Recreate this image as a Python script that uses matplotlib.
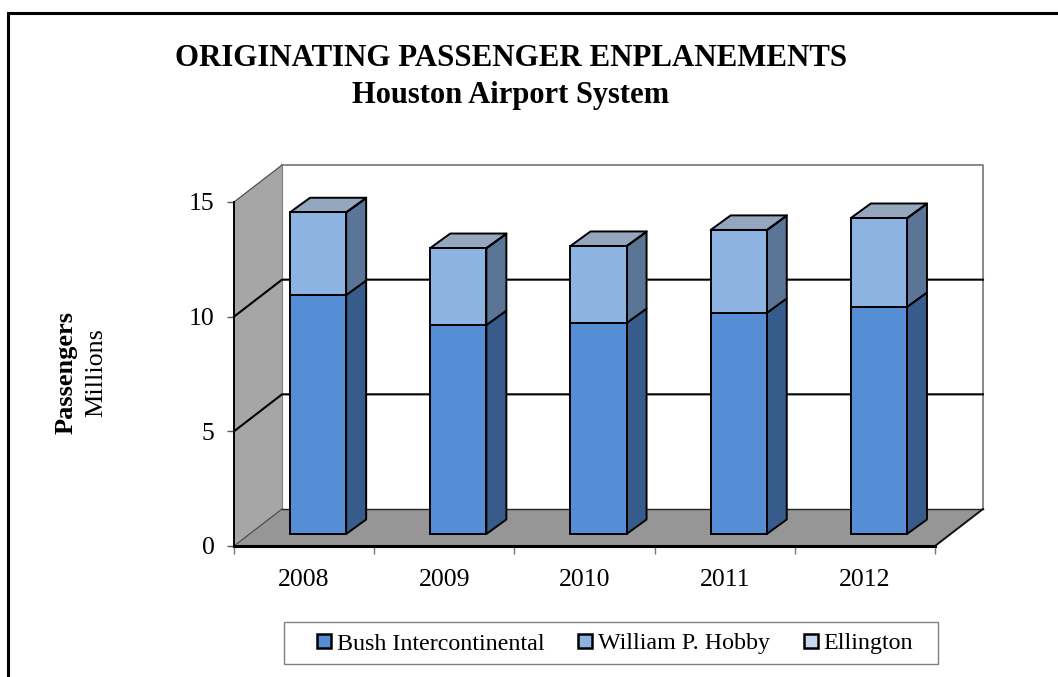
import matplotlib
matplotlib.use("Agg")
import numpy as np
import matplotlib.pyplot as plt
from matplotlib.patches import Polygon, Rectangle

years = ["2008", "2009", "2010", "2011", "2012"]
bush = [10.42, 9.11, 9.20, 9.64, 9.90]
hobby = [3.60, 3.35, 3.35, 3.61, 3.87]
ellington = [0.01, 0.01, 0.01, 0.01, 0.01]
series_names = ["Bush Intercontinental", "William P. Hobby", "Ellington"]
yticks = [0, 5, 10, 15]

front_cols = ["#558ED5", "#8DB3E2", "#C6D9F1"]
side_cols = ["#375C8C", "#5B7596", "#7F8FA6"]
top_col = "#95A7BE"

W, H = 1058, 677
plt.rcParams['font.family'] = ['Liberation Serif', 'DejaVu Serif']

fig = plt.figure(figsize=(W / 100, H / 100), dpi=100)

# frame runs off the right and bottom of the picture
fig.add_artist(Rectangle((7.5 / W, -0.05), 1.1, 1.05 - 12.5 / H, transform=fig.transFigure,
                         fill=False, ec="black", lw=2.2))

# front plane of the 3d box, everything else is sheared from it
ax = fig.add_axes([234 / W, 1 - 546 / H, 701 / W, 344 / H])
ax.set_xlim(0, 5)
ax.set_ylim(0, 15)
for s in ax.spines.values():
    s.set_visible(False)
ax.patch.set_visible(False)

px_x = 701 / 5
px_y = 344 / 15
wall_dx = 48 / px_x
wall_dy = 37 / px_y


def face(pts, fc, ec="black", lw=1.4, z=2):
    ax.add_patch(Polygon(pts, closed=True, fc=fc, ec=ec, lw=lw, zorder=z, clip_on=False,
                         joinstyle="round"))


# walls and floor
face([(0, 0), (wall_dx, wall_dy), (wall_dx, 15 + wall_dy), (0, 15)], "#A6A6A6", ec="none", z=1)
face([(0, 0), (wall_dx, wall_dy), (5 + wall_dx, wall_dy), (5, 0)], "#969696", ec="none", z=1)
ax.plot([wall_dx, 5 + wall_dx, 5 + wall_dx], [15 + wall_dy, 15 + wall_dy, wall_dy],
        color="#808080", lw=1.3, zorder=1, clip_on=False)
ax.plot([wall_dx, wall_dx], [wall_dy, 15 + wall_dy], color="#808080", lw=0.8, zorder=1, clip_on=False)
ax.plot([wall_dx, 5 + wall_dx], [wall_dy, wall_dy], color="#222222", lw=1.0, zorder=1, clip_on=False)
ax.plot([0, wall_dx], [0, wall_dy], color="#444444", lw=0.8, zorder=1, clip_on=False)
ax.plot([5, 5 + wall_dx], [0, wall_dy], color="#111111", lw=1.4, zorder=1, clip_on=False)

# gridlines go round the wall and along the back
for v in yticks[1:3]:
    ax.plot([0, wall_dx, 5 + wall_dx], [v, v + wall_dy, v + wall_dy], color="black", lw=1.5,
            zorder=1.5, clip_on=False)
ax.plot([0, wall_dx], [15, 15 + wall_dy], color="#444444", lw=0.8, zorder=1.5, clip_on=False)

# axis lines
ax.plot([0, 0], [0, 15], color="black", lw=1.4, zorder=1.6, clip_on=False)
ax.plot([0, 5], [0, 0], color="black", lw=2.2, zorder=1.6, clip_on=False)

# bars
bar_w = 0.4
x0 = np.arange(len(years)) + 0.6
base = 12 / px_y
ddx = 20 / px_x
ddy = 14.5 / px_y
stack = [bush, hobby, ellington]
bottoms = np.zeros(len(years))
for k, vals in enumerate(stack):
    ax.bar(x0, vals, bar_w, bottom=bottoms + base, color=front_cols[k], edgecolor="black",
           linewidth=1.4, zorder=3, label=series_names[k], clip_on=False)
    for i, v in enumerate(vals):
        r = x0[i] + bar_w / 2
        y1 = bottoms[i] + base
        y2 = y1 + v
        face([(r, y1), (r + ddx, y1 + ddy), (r + ddx, y2 + ddy), (r, y2)], side_cols[k], z=2.5)
    bottoms = bottoms + np.array(vals)
for i in range(len(years)):
    l = x0[i] - bar_w / 2
    r = x0[i] + bar_w / 2
    t = bottoms[i] + base
    face([(l, t), (r, t), (r + ddx, t + ddy), (l + ddx, t + ddy)], top_col, z=2.6)

# ticks
ax.set_yticks(yticks)
ax.set_xticks(np.arange(len(years) + 1))
ax.set_xticklabels([])
ax.tick_params(axis="y", length=5, width=1, color="#555555", labelsize=18.5, pad=9)
ax.tick_params(axis="x", length=6, width=1, color="#777777")
for i, y in enumerate(years):
    fig.text((234 + px_x * (i + 0.5)) / W, 1 - 580 / H, y, ha="center", va="center", fontsize=18.5)

# titles
fig.text(511 / W, 1 - 59 / H, "ORIGINATING PASSENGER ENPLANEMENTS", ha="center", va="center",
         fontsize=22.2, fontweight="bold")
fig.text(511 / W, 1 - 95 / H, "Houston Airport System", ha="center", va="center",
         fontsize=22, fontweight="bold")
fig.text(66 / W, 1 - 373 / H, "Passengers", rotation=90, ha="center", va="center",
         fontsize=19, fontweight="bold")
fig.text(96.5 / W, 1 - 373 / H, "Millions", rotation=90, ha="center", va="center", fontsize=18.8)

# legend, box drawn by hand since its side padding is wider than the top and bottom
fig.add_artist(Rectangle((284 / W, 1 - 664 / H), 654 / W, 42 / H, transform=fig.transFigure,
                         fc="white", ec="#808080", lw=1.0))
handles = [Rectangle((0, 0), 1, 1, fc=c, ec="black", lw=1.8) for c in front_cols]
leg = fig.legend(handles, series_names, loc="center", bbox_to_anchor=(615 / W, 1 - 644 / H),
                 ncols=3, fontsize=17.3, frameon=False, handlelength=0.58, handleheight=0.58,
                 handletextpad=0.22, columnspacing=1.42, borderpad=0.2)

fig.savefig("out.png", dpi=100)
